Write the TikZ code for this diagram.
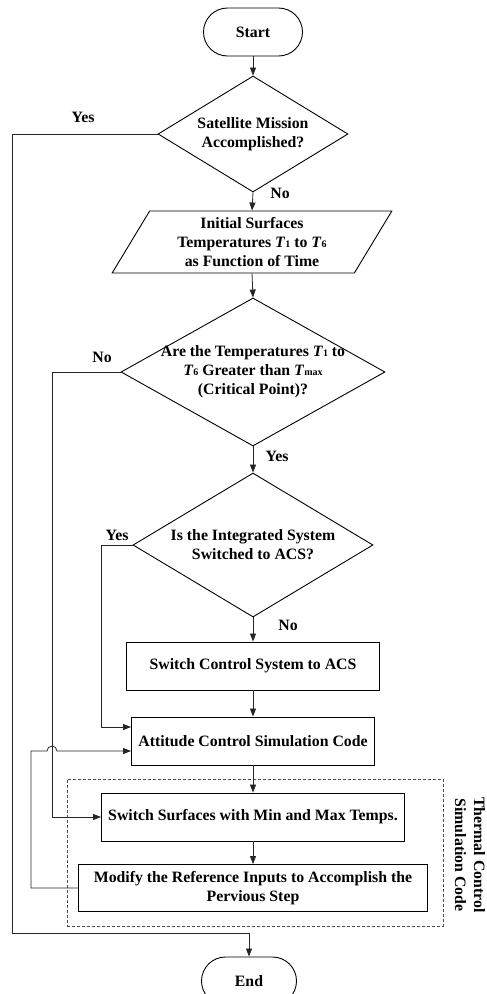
\documentclass[tikz,border=0pt]{standalone}
\usepackage{fontspec}
\setmainfont{Liberation Serif}
\usetikzlibrary{shapes.geometric, shapes.misc, positioning, calc, arrows.meta}
\newcommand{\Tidx}[1]{\textit{T}{\fontsize{10}{10}\selectfont #1}}

\begin{document}
\begin{tikzpicture}
        [x=1pt, y=-1pt, font=\bfseries\fontsize{15.8}{19}\selectfont,
        term/.style={draw, line width=0.9pt, rounded corners=24pt, minimum width=99pt, minimum height=48pt, inner sep=0pt},
        proc/.style={draw, line width=0.9pt, rectangle, minimum height=48pt, inner sep=0pt, align=center},
        decision/.style={draw, line width=0.9pt, diamond, inner sep=0pt},
        inout/.style={draw, line width=0.9pt, trapezium, trapezium left angle=61, trapezium right angle=119, trapezium stretches=true, minimum width=280pt, minimum height=62pt, inner sep=0pt, align=center},
        conn/.style={line width=0.8pt, draw=black!85, -{Triangle[length=8pt,width=6pt]}}]
        \path[use as bounding box] (0,0) rectangle (487,994);
        %terminali
            \node (start) at (253,32) [term] {Start};
            \node (end) at (249,981) [term, minimum width=95pt] {End};
        %blocco dati iniziali
            \node (io) at (252,242) [inout] {Initial Surfaces\\Temperatures \Tidx{1} to \Tidx{6}\\as Function of Time};
        %decisioni
            \node (d1) at (253,134) [decision, minimum width=190pt, minimum height=116pt] {};
            \node (d1t) at (d1) [align=center] {Satellite Mission\\Accomplished?};
            \node (d2) at (253,372) [decision, minimum width=264pt, minimum height=148pt] {};
            \node (d2t) at (d2) [align=center] {Are the Temperatures \Tidx{1} to\\\Tidx{6} Greater than \Tidx{max}\\(Critical Point)?};
            \node (d3) at (253,545) [decision, minimum width=240pt, minimum height=144pt] {};
            \node (d3t) at (d3) [align=center] {Is the Integrated System\\Switched to ACS?};
        %blocchi
            \node (sw) at (253,666) [proc, minimum width=253pt] {Switch Control System to ACS};
            \node (att) at (253,741) [proc, minimum width=243pt] {Attitude Control Simulation Code};
            \node (surf) at (253,817) [proc, minimum width=303pt] {Switch Surfaces with Min and Max Temps.};
            \node (mod) at (253,888) [proc, minimum width=349pt, minimum height=47pt] {Modify the Reference Inputs to Accomplish the\\Pervious Step};
        %riquadro tratteggiato
            \node (tcbox) at (255,852.5) [draw=black!70, line width=0.7pt, dash pattern=on 3pt off 2pt, minimum width=376pt, minimum height=147pt] {};
            \node (tclabel) at (470,855) [rotate=-90, align=center] {Thermal Control\\Simulation Code};
        %label
            \node (yes1) at (83,117) {Yes};
            \node (no1) at (280,193) {No};
            \node (no2) at (102,357) {No};
            \node (yes2) at (277,456) {Yes};
            \node (yes3) at (117,535) {Yes};
            \node (no3) at (288,625) {No};
        %frecce principali
            \draw[conn] (start.south) -- (d1.north);
            \draw[conn] (d1.south) -- (io.north);
            \draw[conn] (io.south) -- (d2.north);
            \draw[conn] (d2.south) -- (d3.north);
            \draw[conn] (d3.south) -- (sw.north);
            \draw[conn] (sw.south) -- (att.north);
            \draw[conn] (att.south) -- (surf.north);
            \draw[conn] (surf.south) -- (mod.north);
        %collegamenti laterali
            \coordinate (yescorner) at (12,933);
            \draw[conn] (d1.west) -| (yescorner) -| (end.north);
            \coordinate (nocorner) at (52,817);
            \draw[conn] (d2.west) -| (nocorner) -- (surf.west);
            \coordinate (yes3corner) at (101,727);
            \coordinate (attin) at ($(att.west)+(0,-14)$);
            \draw[conn] (d3.west) -| (yes3corner) -- (attin);
            \coordinate (fbcorner) at (31,751);
            \coordinate (hop) at (47,751);
            \coordinate (attfb) at ($(att.west)+(0,10)$);
            \draw[conn] (mod.west) -| (fbcorner) -- (hop) arc[start angle=180, end angle=0, radius=5pt] -- (attfb);
    \end{tikzpicture}
\end{document}
